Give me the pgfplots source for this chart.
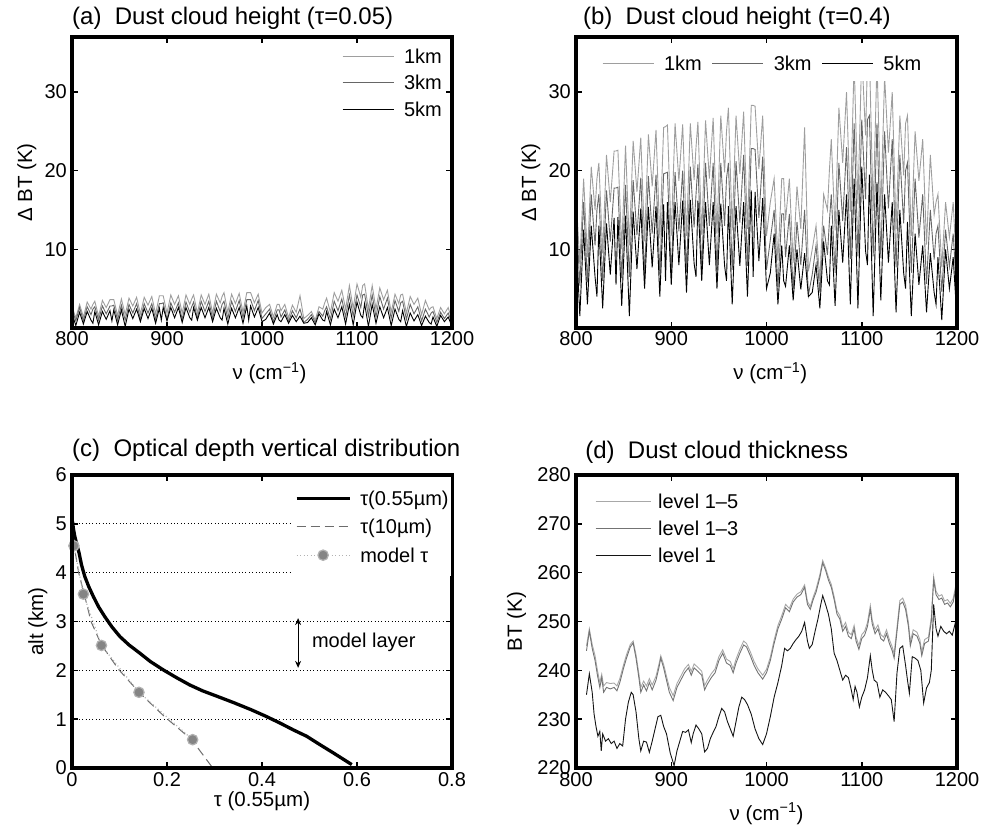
\documentclass[border=0pt]{standalone}
\usepackage{fontspec}
\setmainfont{Liberation Sans}
\usepackage{pgfplots}
\usepackage{pgfplotstable}
\pgfplotsset{compat=1.18}
\usetikzlibrary{arrows.meta}
\definecolor{lg}{gray}{0.62}
\definecolor{mg}{gray}{0.40}
\definecolor{mk}{gray}{0.52}
\definecolor{dl}{gray}{0.70}
\definecolor{d5}{gray}{0.66}
\definecolor{d3}{gray}{0.45}
\definecolor{d1}{gray}{0.08}
\newcommand{\tickfont}{\fontsize{20}{22}\selectfont}
\newcommand{\labfont}{\fontsize{20.5}{23}\selectfont}
\newcommand{\titfont}{\fontsize{24}{26}\selectfont}

\pgfplotstableread{
x b1 b3 b5 a1 a3 a5
800 17.0 15.0 12.0 2.7 2.4 1.9
804 8.1 5.4 1.5 1.3 0.9 0.3
808 19.0 16.0 12.5 3.0 2.6 2.0
812 9.0 5.8 3.0 1.4 0.9 0.5
816 20.5 17.0 13.0 3.3 2.7 2.1
820 15.0 10.5 6.5 2.4 1.7 1.0
822 19.0 15.0 4.0 3.0 2.4 0.6
824 21.0 17.0 13.0 3.4 2.7 2.1
828 9.5 6.0 2.5 1.5 1.0 0.4
832 22.0 17.5 13.3 3.5 2.8 2.1
836 16.0 11.0 6.8 2.6 1.8 1.1
840 22.5 17.8 14.0 3.6 2.8 2.2
842 22.5 17.8 5.5 3.6 2.8 0.9
844 22.6 17.9 14.1 3.6 2.9 2.3
848 10.0 6.3 2.8 1.6 1.0 0.4
852 23.2 18.2 14.3 3.7 2.9 2.3
856 10.5 6.5 1.5 1.7 1.0 0.2
860 23.8 18.8 14.8 3.8 3.0 2.4
864 17.3 11.8 7.5 2.8 1.9 1.2
868 24.2 19.1 15.2 3.9 3.1 2.4
872 11.0 6.7 5.0 1.8 1.1 0.8
876 24.6 19.3 15.4 3.9 3.1 2.5
880 18.0 12.0 7.7 2.9 1.9 1.2
884 25.2 19.5 15.5 4.0 3.1 2.5
888 11.4 6.8 4.0 1.8 1.1 0.6
892 25.5 19.6 15.7 4.1 3.1 2.5
894 25.6 19.7 6.0 4.1 3.1 1.0
896 25.8 19.8 16.0 4.1 3.2 2.6
900 11.7 6.9 5.5 1.9 1.1 0.9
904 26.0 19.8 16.0 4.2 3.2 2.6
908 18.7 12.3 8.0 3.0 2.0 1.3
912 25.9 20.0 16.2 4.1 3.2 2.6
916 11.7 7.1 4.5 1.9 1.1 0.7
920 26.0 20.5 16.3 4.2 3.3 2.6
924 18.8 12.8 8.2 3.0 2.0 1.3
926 23.0 17.0 6.5 3.7 2.7 1.0
928 26.2 20.8 16.2 4.2 3.3 2.6
932 11.8 7.3 6.0 1.9 1.2 1.0
936 26.4 21.0 16.0 4.2 3.4 2.6
940 19.0 13.0 8.0 3.0 2.1 1.3
944 26.7 21.0 16.0 4.3 3.4 2.6
948 12.0 7.4 5.0 1.9 1.2 0.8
952 27.0 21.0 15.8 4.3 3.4 2.5
956 19.8 13.0 7.9 3.2 2.1 1.3
958 25.0 19.0 6.0 4.0 3.0 1.0
960 28.0 21.0 15.5 4.5 3.4 2.5
964 12.4 7.4 3.0 2.0 1.2 0.5
968 27.0 21.2 15.5 4.3 3.4 2.5
972 19.6 13.4 7.9 3.1 2.1 1.3
976 27.5 22.0 16.0 4.4 3.5 2.6
980 12.6 7.9 4.0 2.0 1.3 0.6
984 28.3 22.8 17.5 4.5 3.6 2.8
986 28.3 22.8 6.5 4.5 3.6 1.0
988 28.2 22.7 17.3 4.5 3.6 2.8
992 20.2 14.0 8.5 3.2 2.2 1.4
996 27.0 21.8 16.5 4.3 3.5 2.6
1000 11.7 7.4 5.0 1.9 1.2 0.8
1004 16.0 11.2 7.0 2.6 1.8 1.1
1008 19.0 15.0 12.0 3.0 2.4 1.9
1012 8.6 5.2 3.0 1.4 0.8 0.5
1016 19.0 14.5 10.5 3.0 2.3 1.7
1018 19.0 14.5 6.0 3.0 2.3 1.0
1020 13.7 9.0 5.3 2.2 1.4 0.8
1024 19.0 14.5 10.5 3.0 2.3 1.7
1028 8.3 4.9 3.5 1.3 0.8 0.6
1032 18.0 13.5 10.0 2.9 2.2 1.6
1036 12.6 8.0 4.9 2.0 1.3 0.8
1040 25.5 15.0 9.5 4.1 2.4 1.5
1044 7.2 4.2 4.0 1.2 0.7 0.6
1048 10.0 6.8 4.5 1.6 1.1 0.7
1052 13.0 10.5 8.0 2.1 1.7 1.3
1056 6.0 4.5 2.5 1.0 0.7 0.4
1060 17.0 13.0 11.0 2.7 2.1 1.8
1064 15.0 9.3 6.0 2.4 1.5 1.0
1066 20.0 13.5 5.5 3.2 2.2 0.9
1068 24.0 17.0 13.0 3.8 2.7 2.1
1072 12.4 7.0 2.8 2.0 1.1 0.4
1076 28.0 21.0 15.0 4.5 3.4 2.4
1080 21.0 13.6 8.3 3.4 2.2 1.3
1084 30.0 23.0 17.0 4.8 3.7 2.7
1088 14.8 8.8 3.0 2.4 1.4 0.5
1092 34.0 26.0 19.0 5.4 4.2 3.0
1096 15.8 9.1 2.5 2.5 1.5 0.4
1100 35.0 26.5 20.5 5.6 4.2 3.3
1104 24.5 16.4 9.8 3.9 2.6 1.6
1106 34.0 26.5 8.0 5.4 4.2 1.3
1108 35.0 27.0 19.5 5.6 4.3 3.1
1112 14.9 9.1 1.5 2.4 1.5 0.2
1116 34.0 26.0 18.5 5.4 4.2 3.0
1120 14.9 8.9 3.5 2.4 1.4 0.6
1124 32.0 25.0 17.0 5.1 4.0 2.7
1128 22.3 15.2 8.3 3.6 2.4 1.3
1132 30.0 24.0 16.0 4.8 3.8 2.6
1136 12.6 7.7 2.0 2.0 1.2 0.3
1140 27.0 22.0 15.0 4.3 3.5 2.4
1144 19.4 13.3 7.0 3.1 2.1 1.1
1146 26.0 20.0 5.0 4.2 3.2 0.8
1148 27.0 21.0 13.5 4.3 3.4 2.2
1152 11.7 7.0 1.5 1.9 1.1 0.2
1156 25.0 19.0 12.0 4.0 3.0 1.9
1160 18.7 11.5 5.5 3.0 1.8 0.9
1164 24.0 17.0 10.5 3.8 2.7 1.7
1168 10.6 5.6 2.0 1.7 0.9 0.3
1172 22.0 15.0 9.5 3.5 2.4 1.5
1176 14.4 8.7 4.5 2.3 1.4 0.7
1178 16.0 12.0 3.0 2.6 1.9 0.5
1180 17.0 13.0 9.0 2.7 2.1 1.4
1184 7.7 4.6 1.0 1.2 0.7 0.2
1188 16.0 12.5 10.0 2.6 2.0 1.6
1192 11.5 7.8 5.0 1.8 1.2 0.8
1196 16.0 12.0 9.0 2.6 1.9 1.4
1200 6.3 3.9 1.0 1.0 0.6 0.2
}\spec

\pgfplotstableread{
x y
811 245.0
814 248.5
817 245.3
820 243.0
822.5 240.0
825 237.5
827 239.2
829 236.8
832 237.5
836 237.3
840 237.4
843 236.8
846 238.3
850 241.2
853 243.2
857 245.3
860 246.0
863 243.2
866 239.3
868 236.5
871 237.8
874 236.8
877 238.3
880 237.0
884 238.8
887 241.2
889 243.0
892 241.2
895 238.8
898 236.5
902 234.8
906 237.3
910 238.8
914 240.3
918 241.2
921 239.8
924 241.3
928 240.6
932 239.8
935 236.9
938 238.0
942 239.3
946 240.3
950 242.8
954 244.2
958 242.3
962 241.8
965 240.3
968 242.3
972 244.3
976 246.0
979 245.5
983 243.8
987 241.8
991 240.3
996 239.0
1000 240.2
1004 242.7
1008 246.2
1012 249.2
1016 251.2
1020 253.5
1024 252.7
1028 254.6
1032 255.6
1036 256.1
1040 257.5
1043 254.1
1046 253.1
1049 255.0
1052 256.6
1056 259.6
1059 262.5
1062 261.0
1065 259.1
1068 257.6
1071 255.1
1074 252.2
1077 251.2
1080 248.8
1083 249.8
1086 247.8
1089 247.3
1092 249.2
1094 246.8
1097 245.1
1100 247.3
1103 248.0
1106 249.8
1109 253.3
1111 250.3
1114 248.3
1117 249.3
1120 247.3
1123 246.8
1126 248.3
1129 246.3
1132 244.8
1134 243.4
1137 248.8
1140 254.3
1143 254.8
1146 253.3
1149 249.8
1151 245.9
1154 248.3
1158 247.8
1161 246.3
1163 243.8
1166 246.3
1170 246.8
1173 250.8
1175.5 259.2
1178 256.2
1181 255.2
1184 255.5
1187 254.2
1190 254.5
1193 253.7
1196 254.7
1198.5 257.2
1200 254.8
}\dfive

\pgfplotstableread{
x y
811 244.0
814 248.0
817 244.5
820 242.0
822.5 239.0
825 236.5
827 238.5
829 235.5
832 236.5
836 236.2
840 236.5
843 235.8
846 237.5
850 240.5
853 242.5
857 244.8
860 245.6
863 242.5
866 238.5
868 235.5
871 237.0
874 235.8
877 237.5
880 236.0
884 238.0
887 240.5
889 242.5
892 240.5
895 238.0
898 235.5
902 233.8
906 236.5
910 238.0
914 239.5
918 240.5
921 239.0
924 240.5
928 239.8
932 239.0
935 236.0
938 237.2
942 238.5
946 239.5
950 242.0
954 243.5
958 241.5
962 241.0
965 239.5
968 241.5
972 243.5
976 245.2
979 244.8
983 243.0
987 241.0
991 239.5
996 238.2
1000 239.5
1004 242.0
1008 245.5
1012 248.5
1016 250.5
1020 252.8
1024 252.0
1028 254.0
1032 255.0
1036 255.5
1040 257.0
1043 253.5
1046 252.5
1049 254.5
1052 256.0
1056 259.0
1059 262.0
1062 260.5
1065 258.5
1068 257.0
1071 254.5
1074 251.5
1077 250.5
1080 248.0
1083 249.0
1086 247.0
1089 246.5
1092 248.5
1094 246.0
1097 244.3
1100 246.5
1103 247.2
1106 249.0
1109 252.5
1111 249.5
1114 247.5
1117 248.5
1120 246.5
1123 246.0
1126 247.5
1129 245.5
1132 244.0
1134 242.5
1137 248.0
1140 253.5
1143 254.0
1146 252.5
1149 249.0
1151 245.0
1154 247.5
1158 247.0
1161 245.5
1163 243.0
1166 245.5
1170 246.0
1173 250.0
1175.5 258.5
1178 255.5
1181 254.5
1184 254.8
1187 253.5
1190 253.8
1193 253.0
1196 254.0
1198.5 256.5
1200 254.0
}\dthree

\pgfplotstableread{
x y
811 235.0
814 239.3
817 235.5
819 231.0
821 228.5
823 226.5
825 227.5
826.5 223.5
828 227.0
831 225.5
834 226.0
837 225.0
840 225.5
843 224.0
846 225.0
849 224.5
852 230.0
855 233.5
858 235.5
860 235.0
863 231.5
866 226.0
868 223.5
871 225.5
874 225.3
877 223.2
880 225.5
883 228.0
886 230.5
889 230.8
892 228.5
895 227.0
899 223.0
903 220.5
906 223.5
909 225.5
912 227.5
915 227.3
918 227.8
921 225.2
923 227.0
926 228.8
929 228.0
932 227.0
935 223.3
938 224.0
941 226.0
944 227.3
947 228.5
950 230.5
953 232.2
956 231.5
959 229.5
962 228.0
965 226.5
968 229.5
971 232.5
974 234.5
977 234.0
980 233.0
984 231.0
988 228.0
992 226.0
996 224.8
1000 227.0
1004 230.5
1008 234.5
1012 237.5
1016 241.0
1019 244.5
1022 244.0
1025 244.5
1028 245.5
1031 246.3
1034 247.0
1037 248.0
1040 249.8
1043 246.0
1045 244.5
1048 245.3
1051 248.0
1054 250.5
1057 253.5
1059 255.3
1062 253.5
1065 251.5
1068 248.5
1071 243.5
1074 242.0
1077 240.0
1080 238.0
1083 239.0
1086 238.5
1089 236.0
1091 234.0
1093 236.7
1095 235.5
1097.5 232.5
1100 234.5
1103 236.0
1106 238.5
1109 243.0
1111 240.0
1113 238.0
1116 237.5
1119 234.5
1122 236.0
1125 235.5
1128 234.8
1131 234.0
1134 229.5
1137 239.5
1140 244.5
1143 245.0
1146 241.0
1148 238.0
1150 235.3
1153 242.8
1156 242.5
1159 242.0
1162 240.0
1165 233.3
1168 236.4
1171 237.5
1173 240.0
1175.5 253.5
1178 248.5
1180 247.0
1183 249.0
1186 248.0
1189 247.5
1192 248.0
1195 247.2
1198 249.5
1200 251.5
}\done

\pgfplotsset{
  myax/.style={
    scale only axis, anchor=south west,
    separate axis lines,
    every outer x axis line/.append style={line width=3.2pt, line cap=rect},
    every outer y axis line/.append style={line width=3.2pt, line cap=rect},
    axis line style={line width=3.2pt, line cap=rect},
    after end axis/.code={\draw[black, line width=3.2pt, line join=miter] (rel axis cs:0,0) rectangle (rel axis cs:1,1);},
    tick align=inside, tick pos=both,
    major tick length=6pt,
    every tick/.append style={black, line width=1.5pt},
    /pgf/number format/assume math mode=true,
    /pgf/number format/1000 sep={},
    tick label style={font=\tickfont},
    xticklabel style={anchor=north, inner sep=0pt, yshift=-3pt},
    yticklabel style={anchor=east, inner sep=0pt, xshift=-5pt},
    label style={font=\labfont},
    title style={font=\titfont, anchor=base west, inner sep=0pt},
    legend cell align=left,
    legend style={draw=none, fill=white, font=\tickfont, anchor=north west,
      nodes={inner sep=0pt, text height=14.3pt, text depth=0pt}},
  },
}

\begin{document}
\begin{tikzpicture}
\path[use as bounding box] (0pt,0pt) rectangle (985pt,829pt);

% (a)
\begin{axis}[myax, at={(72pt,501pt)}, width=380pt, height=291pt,
  xmin=800, xmax=1200, ymin=0, ymax=37,
  xtick={800,900,1000,1100,1200}, ytick={10,20,30},
  title={(a)\ \ Dust cloud height (τ=0.05)},
  title style={at={(axis description cs:0,1.0206)}},
  xlabel={ν (cm\textsuperscript{−1})},
  xlabel style={at={(axis description cs:0.52,-0.1787)}, anchor=base},
  ylabel={Δ BT (K)},
  ylabel style={at={(axis description cs:-0.105,0.5)}, anchor=base},
  legend style={at={(axis description cs:0.7026,0.9696)}, inner xsep=3pt, inner ysep=3pt,
    row sep=12.2pt, /tikz/every odd column/.append style={column sep=10pt}},
  legend image code/.code={\draw[#1] (0pt,0pt) -- (51pt,0pt);},
]
\addplot[lg, line width=0.9pt] table[x=x,y=a1]{\spec};
\addlegendentry{1km}
\addplot[mg, line width=0.9pt] table[x=x,y=a3]{\spec};
\addlegendentry{3km}
\addplot[black, line width=0.9pt] table[x=x,y=a5]{\spec};
\addlegendentry{5km}
\end{axis}

% (b)
\begin{axis}[myax, at={(576pt,501pt)}, width=381pt, height=291pt,
  xmin=800, xmax=1200, ymin=0, ymax=37,
  xtick={800,900,1000,1100,1200}, ytick={10,20,30},
  title={(b)\ \ Dust cloud height (τ=0.4)},
  title style={at={(axis description cs:0.018,1.0206)}},
  xlabel={ν (cm\textsuperscript{−1})},
  xlabel style={at={(axis description cs:0.51,-0.1787)}, anchor=base},
  ylabel={Δ BT (K)},
  ylabel style={at={(axis description cs:-0.105,0.5)}, anchor=base},
  legend columns=-1,
  legend style={at={(axis description cs:0.042,0.9725)}, inner xsep=10pt, inner ysep=10.85pt,
    /tikz/every odd column/.append style={column sep=10pt},
    /tikz/every even column/.append style={column sep=10pt}},
  legend image code/.code={\draw[#1] (0pt,0pt) -- (51pt,0pt);},
]
\addplot[lg, line width=0.9pt] table[x=x,y=b1]{\spec};
\addlegendentry{1km}
\addplot[mg, line width=0.9pt] table[x=x,y=b3]{\spec};
\addlegendentry{3km}
\addplot[black, line width=0.9pt] table[x=x,y=b5]{\spec};
\addlegendentry{5km}
\end{axis}

% (c)
\begin{axis}[myax, at={(72pt,61pt)}, width=380pt, height=293pt,
  xmin=0, xmax=0.8, ymin=0, ymax=6,
  xtick={0,0.2,0.4,0.6,0.8}, ytick={0,1,2,3,4,5,6},
  xticklabel style={yshift=-1pt},
  ymajorgrids, grid style={black, line width=0.8pt, dash pattern=on 0.8pt off 2.6pt},
  title={(c)\ \ Optical depth vertical distribution},
  title style={at={(axis description cs:0,1.041)}},
  xlabel={τ (0.55µm)},
  xlabel style={at={(axis description cs:0.5,-0.13)}, anchor=base},
  ylabel={alt (km)},
  ylabel style={at={(axis description cs:-0.076,0.5)}, anchor=base},
  legend style={at={(axis description cs:0.581,0.9937)}, inner xsep=2pt, inner ysep=14pt,
    row sep=14.2pt, /tikz/every odd column/.append style={column sep=9pt}},
  legend image code/.code={\draw[mark repeat=2,mark phase=2,#1] plot coordinates {(0pt,0pt) (26.5pt,0pt) (53pt,0pt)};},
]
\addplot[black, line width=3.3pt, line join=round] coordinates {
(0.589,0.07) (0.550,0.31) (0.520,0.49) (0.494,0.65) (0.466,0.78) (0.438,0.92)
(0.408,1.06) (0.378,1.19) (0.340,1.34) (0.305,1.47) (0.275,1.58) (0.248,1.70)
(0.220,1.85) (0.192,2.01) (0.165,2.18) (0.143,2.35) (0.120,2.52) (0.101,2.69)
(0.084,2.89) (0.069,3.10) (0.056,3.30) (0.045,3.51) (0.035,3.72) (0.027,3.92)
(0.020,4.16) (0.015,4.40) (0.010,4.58) (0.006,4.74) (0.003,4.90) (0.001,5.05)};
\addlegendentry{τ(0.55µm)}
\addplot[gray!85!black, line width=1pt, dash pattern=on 9pt off 5pt] coordinates {
(0.294,0.03) (0.252,0.58) (0.195,1.05) (0.143,1.53) (0.098,2.02) (0.062,2.52)
(0.040,3.00) (0.027,3.51) (0.014,4.00) (0.006,4.46) (0.001,4.95)};
\addlegendentry{τ(10µm)}
\addplot[dl, line width=1.2pt, dash pattern=on 1pt off 2.5pt, mark=*, mark size=5.2pt,
  mark options={solid, fill=mk, draw=none}] coordinates {
(0.004,4.55) (0.024,3.56) (0.062,2.51) (0.141,1.55) (0.254,0.58)};
\addlegendentry{model τ}
\draw[line width=1pt, {Stealth[length=7pt,width=6pt]}-{Stealth[length=7pt,width=6pt]}]
  (axis cs:0.476,2.05) -- (axis cs:0.476,3.07);
\node[anchor=west, inner sep=0pt, font=\tickfont] at (axis cs:0.505,2.58) {model layer};
\end{axis}

% (d)
\begin{axis}[myax, at={(576pt,61pt)}, width=381pt, height=293pt,
  xmin=800, xmax=1200, ymin=220, ymax=280,
  xtick={800,900,1000,1100,1200}, ytick={220,230,240,250,260,270,280},
  xticklabel style={yshift=-1pt},
  title={(d)\ \ Dust cloud thickness},
  title style={at={(axis description cs:0.024,1.0375)}},
  xlabel={ν (cm\textsuperscript{−1})},
  xlabel style={at={(axis description cs:0.5,-0.1775)}, anchor=base},
  ylabel={BT (K)},
  ylabel style={at={(axis description cs:-0.142,0.5)}, anchor=base},
  legend style={at={(axis description cs:0.042,0.9459)}, inner xsep=3pt, inner ysep=3pt,
    row sep=12.7pt, /tikz/every odd column/.append style={column sep=7pt}},
  legend image code/.code={\draw[#1] (0pt,0pt) -- (55pt,0pt);},
]
\addplot[d5, line width=0.9pt] table[x=x,y=y]{\dfive};
\addlegendentry{level 1–5}
\addplot[d3, line width=0.9pt] table[x=x,y=y]{\dthree};
\addlegendentry{level 1–3}
\addplot[d1, line width=0.9pt] table[x=x,y=y]{\done};
\addlegendentry{level 1}
\end{axis}
\end{tikzpicture}
\end{document}
